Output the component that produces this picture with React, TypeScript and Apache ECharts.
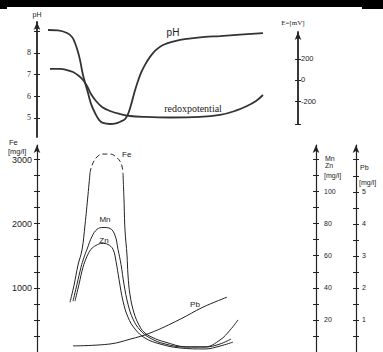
import React, { useEffect, useRef } from 'react';
import * as echarts from 'echarts';

// ---- Top panel: pH and redox potential ----
const PH_TICKS = [5, 6, 7, 8, 9];
const PH_LABELS = [5, 6, 7, 8];
const E_TICKS = [-419, -200, 0, 200];
const E_LABELS = [-200, 0, 200];

const phX = [11, 21, 30, 35, 38, 41, 43, 46, 49, 51, 54, 58, 62, 66, 73, 79, 83, 88, 91, 94, 97, 100, 104, 108, 113, 119, 126, 138, 150, 168, 183, 203, 226];
const phY = [9.06, 9.04, 8.92, 8.74, 8.46, 8.05, 7.68, 6.98, 6.48, 6.15, 5.65, 5.23, 4.91, 4.77, 4.72, 4.75, 4.82, 4.95, 5.18, 5.6, 6.11, 6.57, 7.08, 7.45, 7.82, 8.14, 8.37, 8.55, 8.65, 8.74, 8.78, 8.85, 8.92];

const redoxX = [13, 23, 30, 36, 42, 46, 50, 54, 59, 65, 73, 83, 93, 108, 133, 163, 183, 198, 210, 219, 226];
const redoxY = [105, 105, 95, 76, 38, 0, -57, -133, -200, -257, -295, -324, -343, -352, -357, -352, -333, -295, -248, -200, -143];

// ---- Bottom panel: metal concentrations ----
const FE_TICKS = [250, 500, 750, 1000, 1250, 1500, 1750, 2000, 2250, 2500, 2750, 3000];
const FE_LABELS = [1000, 2000, 3000];
const MN_TICKS = [10, 20, 30, 40, 50, 60, 70, 80, 90, 100, 110, 120];
const MN_LABELS = [20, 40, 60, 80, 100];
const PB_TICKS = [0.5, 1, 1.5, 2, 2.5, 3, 3.5, 4, 4.5, 5, 5.5, 6];
const PB_LABELS = [1, 2, 3, 4, 5];

const feLeftX = [33, 37, 41, 45, 48, 51, 53];
const feLeftY = [775, 1040, 1355, 1590, 1980, 2450, 2790];
const feTopX = [53, 55, 60, 66, 73, 79, 84, 86];
const feTopY = [2790, 2910, 3040, 3085, 3085, 3040, 2945, 2790];
const feRightX = [86, 87, 88, 90, 91, 93, 97, 102, 107, 115, 128, 150, 168, 183, 193, 201];
const feRightY = [2790, 2370, 1900, 1510, 1200, 890, 610, 420, 310, 230, 155, 80, 80, 187, 340, 500];

const mnX = [36, 40, 44, 47, 50, 55, 60, 66, 73, 78, 81, 84, 87, 91, 96, 103, 113, 128, 148, 168, 183, 194];
const mnY = [31.7, 42.2, 52.8, 59, 64, 72, 76.4, 77.6, 77, 72.7, 64, 54.6, 42.2, 29.8, 20.5, 13.7, 8.7, 5, 3.1, 3.1, 5, 8.1];

const znX = [38, 42, 46, 50, 54, 59, 65, 71, 76, 79, 82, 86, 91, 98, 108, 123, 143, 168, 183, 196];
const znY = [31.7, 42.2, 52.8, 59.6, 64, 66.4, 67.7, 67, 64, 56.5, 45.3, 31.7, 21.7, 14.3, 8.7, 5, 2.5, 1.9, 3.7, 6.2];

const pbX = [36, 73, 93, 113, 143, 166, 190];
const pbY = [0.19, 0.25, 0.4, 0.59, 1.02, 1.4, 1.71];

const zip = (xs: number[], ys: number[]) => xs.map((x, i) => [x, ys[i]]);

const INK = '#222';
const SANS = 'Liberation Sans, Arial, sans-serif';
const SERIF = 'Liberation Serif, Times New Roman, serif';

function yAxisPair(base: any, ticks: number[], labels: number[], labelStyle: any, lineWidth: number) {
  const main = {
    ...base,
    type: 'value',
    splitLine: { show: false },
    axisLine: {
      show: true,
      onZero: false,
      symbol: ['none', 'arrow'],
      symbolSize: [5, 8],
      lineStyle: { color: INK, width: lineWidth },
    },
    axisTick: { show: true, inside: false, length: 3, customValues: ticks, lineStyle: { color: INK, width: 1 } },
    axisLabel: { show: true, customValues: labels, formatter: (v: number) => String(v), ...labelStyle },
  };
  const twin = {
    ...base,
    type: 'value',
    splitLine: { show: false },
    axisLine: { show: false, onZero: false },
    axisTick: { show: true, inside: true, length: 3, customValues: ticks, lineStyle: { color: INK, width: 1 } },
    axisLabel: { show: false },
  };
  return [main, twin];
}

export default function App() {
  const ref = useRef<HTMLDivElement>(null);

  useEffect(() => {
    if (!ref.current) return;
    const chart = echarts.init(ref.current, undefined, { renderer: 'svg' });

    const yAxes = [
      ...yAxisPair({ gridIndex: 0, position: 'left', min: 4.12, max: 9.43 }, PH_TICKS, PH_LABELS,
        { margin: 6, fontSize: 8, fontFamily: SERIF, color: INK }, 1.8),
      ...yAxisPair({ gridIndex: 1, position: 'right', min: -419, max: 457 }, E_TICKS, E_LABELS,
        { margin: 3, fontSize: 7.5, fontFamily: SANS, color: INK }, 1.8),
      ...yAxisPair({ gridIndex: 2, position: 'left', min: 0, max: 3226 }, FE_TICKS, FE_LABELS,
        { margin: 5, fontSize: 9, fontFamily: SANS, color: INK }, 1.2),
      ...yAxisPair({ gridIndex: 2, position: 'right', min: 0, max: 129 }, MN_TICKS, MN_LABELS,
        { margin: 8, fontSize: 7, fontFamily: SANS, color: INK }, 1.2),
      ...yAxisPair({ gridIndex: 2, position: 'right', offset: 40, min: 0, max: 6.46 }, PB_TICKS, PB_LABELS,
        { margin: 6, fontSize: 7, fontFamily: SANS, color: INK }, 1.2),
    ];

    const topLine = { color: '#333', width: 1.8 };
    const botLine = { color: INK, width: 1 };

    const lineSeries = (name: string, data: number[][], xi: number, yi: number, style: any) => ({
      name,
      type: 'line',
      xAxisIndex: xi,
      yAxisIndex: yi,
      data,
      smooth: 0.4,
      showSymbol: false,
      symbol: 'none',
      lineStyle: style,
      silent: true,
    });

    const txt = (text: string, x: number, y: number, size: number, family: string, align = 'left') => ({
      type: 'text',
      x,
      y,
      style: { text, fontSize: size, fontFamily: family, fill: INK, align, verticalAlign: 'middle' },
    });

    chart.setOption({
      animation: false,
      backgroundColor: '#ffffff',
      grid: [
        { left: 37, right: 85, top: 22, bottom: 215 },
        { left: 37, right: 85, top: 32, bottom: 228 },
        { left: 37, right: 67, top: 145, bottom: 0 },
      ],
      xAxis: [
        { gridIndex: 0, type: 'value', min: 0, max: 261, show: false },
        { gridIndex: 1, type: 'value', min: 0, max: 261, show: false },
        { gridIndex: 2, type: 'value', min: 0, max: 279, show: false },
      ],
      yAxis: yAxes,
      series: [
        lineSeries('pH', zip(phX, phY), 0, 0, topLine),
        lineSeries('redoxpotential', zip(redoxX, redoxY), 1, 2, topLine),
        lineSeries('Fe', zip(feLeftX, feLeftY), 2, 4, botLine),
        lineSeries('Fe (dashed)', zip(feTopX, feTopY), 2, 4, { ...botLine, type: [5, 3] }),
        lineSeries('Fe ', zip(feRightX, feRightY), 2, 4, botLine),
        lineSeries('Mn', zip(mnX, mnY), 2, 6, botLine),
        lineSeries('Zn', zip(znX, znY), 2, 6, botLine),
        lineSeries('Pb', zip(pbX, pbY), 2, 8, botLine),
      ],
      graphic: [
        { type: 'rect', shape: { x: 0, y: 0, width: 383, height: 7 }, style: { fill: '#000' } },
        { type: 'rect', shape: { x: 0, y: 0, width: 7, height: 9 }, style: { fill: '#000' } },
        { type: 'rect', shape: { x: 362, y: 0, width: 21, height: 9 }, style: { fill: '#000' } },
        txt('pH', 37, 14, 7, SANS, 'center'),
        txt('E=[mV]', 293, 23, 7, SERIF, 'center'),
        txt('pH', 173, 32, 10, SANS, 'center'),
        txt('redoxpotential', 193, 108, 10, SERIF, 'center'),
        txt('Fe', 9, 142, 7.5, SANS),
        txt('[mg/l]', 8, 151, 7.5, SANS),
        txt('Mn', 325, 158, 7, SANS),
        txt('Zn', 325, 165, 7, SANS),
        txt('[mg/l]', 324, 175, 7, SANS),
        txt('Pb', 360, 167, 7, SANS),
        txt('[mg/l]', 359, 182, 7, SANS),
        txt('Fe', 122, 154, 8, SANS),
        txt('Mn', 105, 219, 8, SANS, 'center'),
        txt('Zn', 104, 240, 8, SANS, 'center'),
        txt('Pb', 195, 304, 8, SANS, 'center'),
      ],
    });

    return () => chart.dispose();
  }, []);

  return (
    <div
      ref={ref}
      style={{ position: 'fixed', left: 0, top: 0, width: 383, height: 352, background: '#fff' }}
    />
  );
}
